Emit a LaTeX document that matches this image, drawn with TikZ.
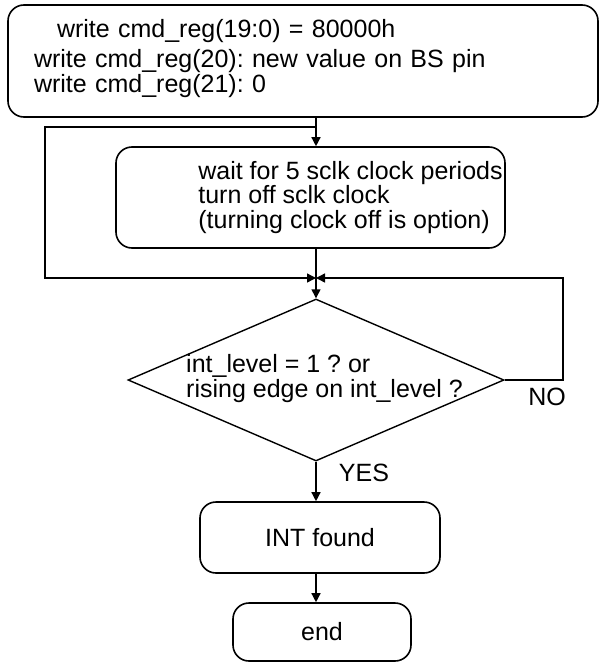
\documentclass[tikz,border=0pt]{standalone}
\usepackage{fontspec}
\setmainfont{Liberation Sans}
\frenchspacing
\usetikzlibrary{arrows.meta,positioning,shapes.geometric}
\newcommand{\flowfont}{\fontsize{12.5}{12.25}\selectfont}
\tikzset{
  box/.style={draw=black,rounded corners=8pt,fill=white,line width=0.8pt,inner sep=0pt,font=\flowfont},
  stepbox/.style={box,align=left},
  decision/.style={draw=black,diamond,fill=white,line width=0.7pt,inner sep=0pt},
  tag/.style={font=\flowfont,inner sep=0pt},
  flow/.style={-{Triangle[length=4.5pt,width=4.5pt]},line width=0.7pt,draw=black},
  plain/.style={line width=0.7pt,draw=black}
}
\begin{document}
\begin{tikzpicture}[x=0.5pt,y=-0.5pt]
  \useasboundingbox (0,0) rectangle (600,664);
  \node[stepbox,minimum width=295pt,minimum height=56pt,text width=269pt,inner xsep=13pt,text depth=32.7pt] (write) at (303,61) {\hspace*{11.5pt}write cmd\_reg(19:0) = 80000h\\[3pt]write cmd\_reg(20): new value on BS pin\\write cmd\_reg(21): 0};
  \node[stepbox,minimum width=194.5pt,minimum height=50.5pt] (wait) at (310.5,197.5) {\hspace*{40pt}wait for 5 sclk clock periods\\\hspace*{40pt}turn off sclk clock\\\hspace*{40pt}(turning clock off is option)};
  \node[decision,minimum width=188pt,minimum height=81pt,label={[tag,align=left,xshift=4.25pt,yshift=0.75pt]center:{int\_level = 1 ? or\\rising edge on int\_level ?}}] (check) at (316,380) {};
  \node[box,minimum width=120pt,minimum height=35.5pt] (found) at (320,537.5) {INT found};
  \node[box,minimum width=89pt,minimum height=29pt] (finish) at (322,632) {end};
  \coordinate (fork) at (316,127);
  \coordinate (bypass) at (45,127);
  \coordinate (join) at (316,278);
  \coordinate (loop) at (563,278);
  \node[tag] (yes) at (364,473) {YES};
  \node[tag] (no) at (547,397) {NO};
  \draw[flow] (write.south -| check.north) -- (wait.north -| check.north);
  \draw[flow] (fork) -- (bypass) |- (join);
  \draw[plain] (wait.south -| check.north) -- (join);
  \draw[flow] (join) -- (check.north);
  \draw[flow] (check.east) -| (loop) -- (join);
  \draw[flow] (check.south) -- (check.south |- found.north);
  \draw[flow] (found.south -| check.south) -- (finish.north -| check.south);
\end{tikzpicture}
\end{document}
